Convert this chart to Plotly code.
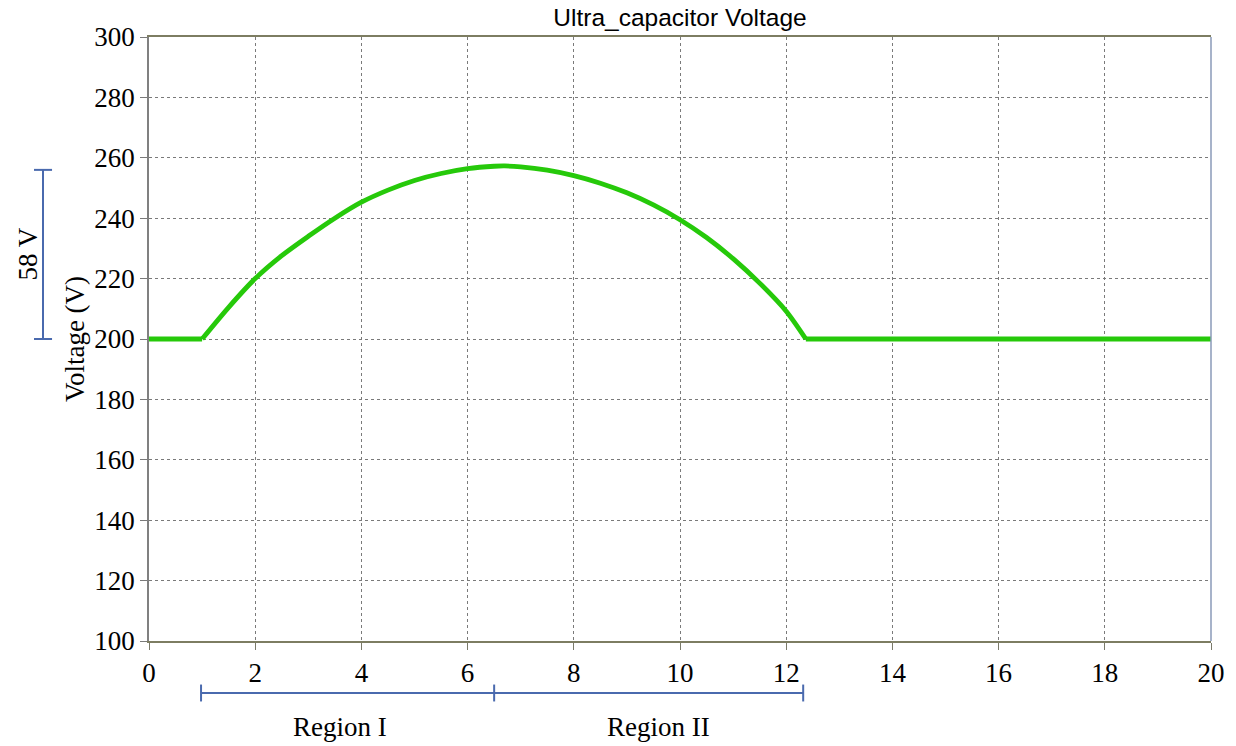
import plotly.graph_objects as go

# Ultra-capacitor voltage over time (s, V)
time_s = [0, 1.0, 1.5, 2, 2.5, 3, 3.5, 4, 4.5, 5, 5.5, 6, 6.5, 6.7, 7, 7.5, 8,
          8.5, 9, 9.5, 10, 10.5, 11, 11.5, 12, 12.37, 15.2, 15.28, 15.4, 20]
voltage_v = [200, 200, 210.5, 220, 227.6, 234, 240, 245.3, 249.3, 252.5, 254.8,
             256.4, 257.2, 257.3, 257.0, 255.9, 254.1, 251.6, 248.4, 244.4, 239.5,
             233.6, 226.6, 218.5, 209.2, 200, 200, 200.3, 200, 200]

x_ticks = list(range(0, 21, 2))
y_ticks = list(range(100, 301, 20))

# Swing annotation (left) and region spans (bottom)
swing_low, swing_high = 200, 256
swing_label = "58 V"
region_bounds = [0.98, 6.5, 12.32]
region_labels = ["Region I", "Region II"]
region_label_x = [3.6, 9.6]

bracket_color = "#4a6aae"
serif = "Liberation Serif, Times New Roman, serif"
fs = 27
green = "#26c90a"

fig = go.Figure()
# flat start and tail drawn straight, the charge/discharge arc smoothed
fig.add_trace(go.Scatter(x=time_s[0:2], y=voltage_v[0:2], mode="lines",
                         line=dict(color=green, width=4.8), showlegend=False))
fig.add_trace(go.Scatter(x=time_s[1:26], y=voltage_v[1:26], mode="lines",
                         line=dict(color=green, width=4.8, shape="spline", smoothing=0.8),
                         showlegend=False))
fig.add_trace(go.Scatter(x=time_s[25:], y=voltage_v[25:], mode="lines",
                         line=dict(color=green, width=4.8), showlegend=False))

shapes = []
# vertical bracket for the voltage swing
bx, cap = -0.0998, 0.0085
shapes.append(dict(type="line", xref="paper", yref="y", x0=bx, x1=bx,
                   y0=swing_low, y1=swing_high, line=dict(color=bracket_color, width=2)))
for yv in (swing_low, swing_high):
    shapes.append(dict(type="line", xref="paper", yref="y", x0=bx - cap, x1=bx + cap,
                       y0=yv, y1=yv, line=dict(color=bracket_color, width=2)))

# horizontal bracket for the regions
by, tick_h = -0.0861, 0.014
shapes.append(dict(type="line", xref="x", yref="paper", x0=region_bounds[0],
                   x1=region_bounds[-1], y0=by, y1=by,
                   line=dict(color=bracket_color, width=2)))
for xv in region_bounds:
    shapes.append(dict(type="line", xref="x", yref="paper", x0=xv, x1=xv,
                       y0=by - tick_h, y1=by + tick_h,
                       line=dict(color=bracket_color, width=2)))

# right border of the plot frame
shapes.append(dict(type="line", xref="paper", yref="paper", x0=1, x1=1, y0=0, y1=1,
                   line=dict(color="#8a9ab8", width=1.5)))

annotations = [
    dict(text=swing_label, xref="paper", yref="y", x=-0.1139, y=(swing_low + swing_high) / 2,
         xanchor="center", yanchor="middle", textangle=-90, showarrow=False,
         font=dict(family=serif, size=fs, color="black")),
]
for lbl, lx in zip(region_labels, region_label_x):
    annotations.append(dict(
        text=lbl, xref="x", yref="paper", x=lx, y=-0.1424,
        xanchor="center", yanchor="middle", showarrow=False,
        font=dict(family=serif, size=fs, color="black")))

fig.update_layout(
    width=1236, height=746,
    margin=dict(l=149, r=25, t=37, b=105),
    paper_bgcolor="white", plot_bgcolor="white",
    title=dict(text="Ultra_capacitor Voltage", x=0.5, xref="paper", xanchor="center",
               y=0.976, yanchor="middle",
               font=dict(family="Liberation Sans, Arial, sans-serif", size=24.5, color="black")),
    shapes=shapes, annotations=annotations,
    xaxis=dict(range=[0, 20], tickvals=x_ticks, ticks="outside", ticklen=7,
               tickcolor="#7a7a6a", showline=True, linecolor="#7d7d62", linewidth=1.5,
               mirror=True, showgrid=True, gridcolor="#7a7a7a", griddash="dot",
               gridwidth=1, zeroline=False, automargin=False,
               tickfont=dict(family=serif, size=fs, color="black")),
    yaxis=dict(range=[100, 300], tickvals=y_ticks, ticks="outside", ticklen=7,
               tickcolor="#7a7a7a", showline=True, linecolor="#808080", linewidth=1.5,
               showgrid=True, gridcolor="#7a7a7a", griddash="dot", gridwidth=1,
               zeroline=False, automargin=False,
               title=dict(text="Voltage (V)", standoff=2,
                          font=dict(family=serif, size=fs, color="black")),
               tickfont=dict(family=serif, size=fs, color="black")),
)

fig.write_html("out.html")
